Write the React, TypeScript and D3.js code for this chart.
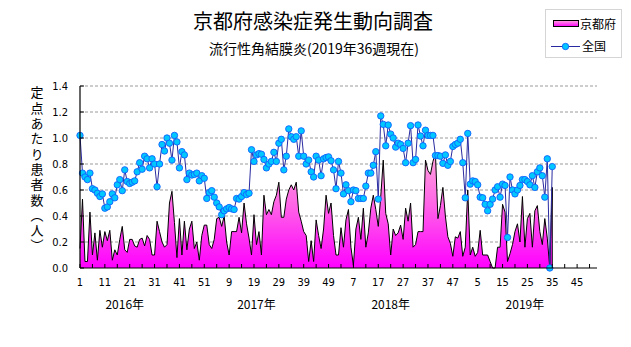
import React from "react";
import * as d3 from "d3";

// 京都府 (weekly, 2016w1 .. 2019w35)
const kyotoValues: number[] = [
  0.15, 0.53, 0.05, 0.05, 0.43, 0.10, 0.27, 0.06, 0.29, 0.16,
  0.28, 0.21, 0.29, 0.06, 0.14, 0.10, 0.22, 0.32, 0.14, 0.12,
  0.22, 0.22, 0.17, 0.16, 0.22, 0.23, 0.17, 0.25, 0.22, 0.10,
  0.10, 0.36, 0.28, 0.20, 0.16, 0.18, 0.50, 0.59, 0.35, 0.08,
  0.38, 0.10, 0.36, 0.14, 0.30, 0.36, 0.15, 0.20, 0.06, 0.25,
  0.33, 0.33, 0.18, 0.15, 0.22, 0.38, 0.39, 0.32, 0.40, 0.20,
  0.10, 0.28, 0.28, 0.28, 0.39, 0.27, 0.50, 0.34, 0.23, 0.10,
  0.41, 0.18, 0.28, 0.10, 0.56, 0.41, 0.45, 0.41, 0.51, 0.56,
  0.66, 0.39, 0.39, 0.53, 0.60, 0.64, 0.60, 0.66, 0.43, 0.36,
  0.28, 0.25, 0.05, 0.21, 0.05, 0.37, 0.25, 0.15, 0.30, 0.56,
  0.42, 0.50, 0.25, 0.10, 0.10, 0.31, 0.16, 0.37, 0.45, 0.16,
  0.02, 0.30, 0.39, 0.22, 0.46, 0.16, 0.27, 0.46, 0.56, 0.45,
  0.32, 0.55, 0.83, 0.42, 0.34, 0.10, 0.30, 0.25, 0.27, 0.33,
  0.22, 0.46, 0.36, 0.50, 0.16, 0.18, 0.28, 0.28, 0.28, 0.83,
  0.75, 0.72, 0.82, 0.88, 0.38, 0.48, 0.62, 0.40, 0.24, 0.19,
  0.09, 0.24, 0.23, 0.28, 0.09, 0.16, 0.60, 0.10, 0.16, 0.09,
  0.12, 0.29, 0.10, 0.10, 0.10, 0.05, 0.00, 0.00, 0.16, 0.16,
  0.49, 0.43, 0.05, 0.11, 0.18, 0.28, 0.34, 0.20, 0.55, 0.16,
  0.38, 0.42, 0.16, 0.44, 0.48, 0.28, 0.18, 0.38, 0.23, 0.00,
  0.62,
];

// 全国 (weekly, 2016w1 .. 2019w35)
const zenkokuValues: number[] = [
  1.02, 0.73, 0.70, 0.68, 0.73, 0.61, 0.60, 0.575, 0.55, 0.57,
  0.46, 0.47, 0.51, 0.57, 0.54, 0.64, 0.68, 0.595, 0.755, 0.665,
  0.65, 0.66, 0.67, 0.74, 0.81, 0.76, 0.86, 0.84, 0.77, 0.84,
  0.80, 0.625, 0.80, 0.95, 0.90, 1.00, 0.96, 0.83, 1.02, 0.97,
  0.77, 0.895, 0.87, 0.68, 0.73, 0.715, 0.72, 0.73, 0.67, 0.71,
  0.69, 0.535, 0.58, 0.595, 0.545, 0.50, 0.47, 0.41, 0.44, 0.455,
  0.465, 0.455, 0.45, 0.535, 0.53, 0.55, 0.58, 0.565, 0.575, 0.91,
  0.82, 0.87, 0.88, 0.875, 0.835, 0.77, 0.80, 0.82, 0.89, 0.82,
  0.96, 0.99, 0.755, 0.86, 1.07, 1.01, 0.99, 1.01, 0.86, 1.055,
  0.86, 0.80, 0.83, 0.74, 0.70, 0.86, 0.83, 0.71, 0.84, 0.85,
  0.855, 0.825, 0.755, 0.61, 0.82, 0.73, 0.57, 0.64, 0.595, 0.51,
  0.60, 0.595, 0.535, 0.535, 0.535, 0.63, 0.73, 0.73, 0.79, 0.895,
  0.53, 1.17, 1.105, 0.94, 1.10, 1.03, 1.00, 0.93, 0.96, 0.95,
  0.92, 0.81, 0.96, 1.095, 0.81, 0.835, 1.10, 1.015, 0.94, 1.06,
  1.02, 1.02, 1.02, 0.865, 0.865, 0.86, 0.805, 0.87, 0.79, 0.82,
  0.935, 0.95, 0.96, 0.99, 0.81, 0.54, 1.035, 0.645, 0.67, 0.665,
  0.64, 0.545, 0.54, 0.49, 0.44, 0.49, 0.53, 0.60, 0.625, 0.545,
  0.645, 0.635, 0.235, 0.70, 0.60, 0.57, 0.60, 0.635, 0.68, 0.68,
  0.665, 0.64, 0.71, 0.62, 0.74, 0.77, 0.71, 0.545, 0.84, 0.00,
  0.78,
];

const xTickLabels: string[] = [
  "1", "11", "21", "31", "41", "51", "9", "19", "29", "39", "49",
  "7", "17", "27", "37", "47", "5", "15", "25", "35", "45",
];
const yTicks: number[] = [0, 0.2, 0.4, 0.6, 0.8, 1.0, 1.2, 1.4];
const yearLabels: string[] = ["2016年", "2017年", "2018年", "2019年"];
const yearLabelWeeks: number[] = [18, 71, 125, 179];
const yAxisTitle = "定点あたり患者数（人）";
const titleText = "京都府感染症発生動向調査";
const subtitleText = "流行性角結膜炎(2019年36週現在)";
const legendNames: string[] = ["京都府", "全国"];

const CJK = "'Noto Sans CJK JP', 'Noto Sans CJK SC', sans-serif";
const NUM = "'Liberation Sans Narrow', 'DejaVu Sans Condensed', 'Liberation Sans', Arial, sans-serif";

export default function App() {
  const W = 631;
  const H = 347;
  const x = d3.scaleLinear().domain([0, 208]).range([80, 597]);
  const y = d3.scaleLinear().domain([0, 1.4]).range([268, 86]);

  const area = d3
    .area<number>()
    .x((_, i) => x(i))
    .y0(y(0))
    .y1((d) => y(d));
  const outline = d3
    .line<number>()
    .x((_, i) => x(i))
    .y((d) => y(d));
  const blueLine = d3
    .line<number>()
    .x((_, i) => x(i))
    .y((d) => y(d));

  const minorTicks = d3.range(0, 206, 5);
  const fmt = d3.format(".1f");

  return (
    <svg
      width={W}
      height={H}
      viewBox={`0 0 ${W} ${H}`}
      style={{ position: "absolute", left: 0, top: 0, display: "block", background: "#fff" }}
    >
      <defs>
        <linearGradient id="pinkGrad" gradientUnits="userSpaceOnUse" x1="0" y1={y(0.9)} x2="0" y2={y(0)}>
          <stop offset="0" stopColor="#ffa6dc" />
          <stop offset="0.45" stopColor="#ff66e6" />
          <stop offset="1" stopColor="#ff00ff" />
        </linearGradient>
        <linearGradient id="legendGrad" x1="0" y1="0" x2="0" y2="1">
          <stop offset="0" stopColor="#ffa6dc" />
          <stop offset="1" stopColor="#ff00ff" />
        </linearGradient>
      </defs>

      {/* titles */}
      <text x={313} y={29} textAnchor="middle" fontFamily={CJK} fontSize={20} fill="#000">
        {titleText}
      </text>
      <text x={314} y={54} textAnchor="middle" fontFamily={CJK} fontSize={14} fill="#000">
        {subtitleText}
      </text>

      {/* gridlines */}
      {yTicks.slice(1).map((t) => (
        <line
          key={"g" + t}
          x1={x(0)}
          x2={x(208)}
          y1={y(t)}
          y2={y(t)}
          stroke="#9a9a9a"
          strokeWidth={1}
          strokeDasharray="3,2"
        />
      ))}

      {/* Kyoto area */}
      <path d={area(kyotoValues) || ""} fill="url(#pinkGrad)" stroke="none" />
      <path d={outline(kyotoValues) || ""} fill="none" stroke="#000" strokeWidth={1} />
      <line
        x1={x(kyotoValues.length - 1)}
        x2={x(kyotoValues.length - 1)}
        y1={y(kyotoValues[kyotoValues.length - 1])}
        y2={y(0)}
        stroke="#000"
        strokeWidth={1}
      />

      {/* Nation line */}
      <path d={blueLine(zenkokuValues) || ""} fill="none" stroke="#2a2aa0" strokeWidth={1} />
      {zenkokuValues.map((v, i) => (
        <circle key={"c" + i} cx={x(i)} cy={y(v)} r={3.2} fill="#00c8ff" stroke="#1060ff" strokeWidth={0.9} />
      ))}

      {/* axes */}
      <line x1={x(0)} x2={x(0)} y1={y(1.4)} y2={y(0)} stroke="#000" strokeWidth={1.2} />
      <line x1={x(0)} x2={x(208)} y1={y(0)} y2={y(0)} stroke="#000" strokeWidth={1.2} />
      {yTicks.map((t) => (
        <g key={"yt" + t}>
          <line x1={x(0)} x2={x(0) + 4} y1={y(t)} y2={y(t)} stroke="#000" />
          <text
            x={x(0) - 12}
            y={y(t) + 4}
            textAnchor="end"
            fontFamily={NUM}
            fontSize={11}
            fill="#000"
          >
            {fmt(t)}
          </text>
        </g>
      ))}
      {minorTicks.map((t) => (
        <line key={"xt" + t} x1={x(t)} x2={x(t)} y1={y(0)} y2={y(0) - 4} stroke="#000" />
      ))}
      {xTickLabels.map((lab, i) => (
        <text
          key={"xl" + i}
          x={x(i * 10)}
          y={286}
          textAnchor="middle"
          fontFamily={NUM}
          fontSize={11}
          fill="#000"
        >
          {lab}
        </text>
      ))}
      {yearLabels.map((lab, i) => (
        <text
          key={"yr" + i}
          x={x(yearLabelWeeks[i])}
          y={309}
          textAnchor="middle"
          fontFamily={CJK}
          fontSize={12}
          fill="#000"
        >
          {lab}
        </text>
      ))}

      {/* y axis title (vertical, upright characters) */}
      <text
        x={37}
        y={86}
        fontFamily={CJK}
        fontSize={13}
        fill="#000"
        style={{ writingMode: "vertical-rl", textOrientation: "upright", letterSpacing: "2.3px" }}
      >
        {yAxisTitle}
      </text>

      {/* legend */}
      <rect x={545.5} y={9.5} width={76} height={48} fill="#fff" stroke="#aaa" strokeDasharray="1,1" />
      <rect x={553.5} y={20.5} width={25} height={6} fill="url(#legendGrad)" stroke="#000" />
      <text x={580} y={29} fontFamily={CJK} fontSize={12} fill="#000">
        {legendNames[0]}
      </text>
      <line x1={551} x2={580} y1={46.5} y2={46.5} stroke="#2a2aa0" />
      <circle cx={565.5} cy={46.5} r={3.2} fill="#00c8ff" stroke="#1060ff" strokeWidth={0.9} />
      <text x={582} y={51} fontFamily={CJK} fontSize={12} fill="#000">
        {legendNames[1]}
      </text>
    </svg>
  );
}
